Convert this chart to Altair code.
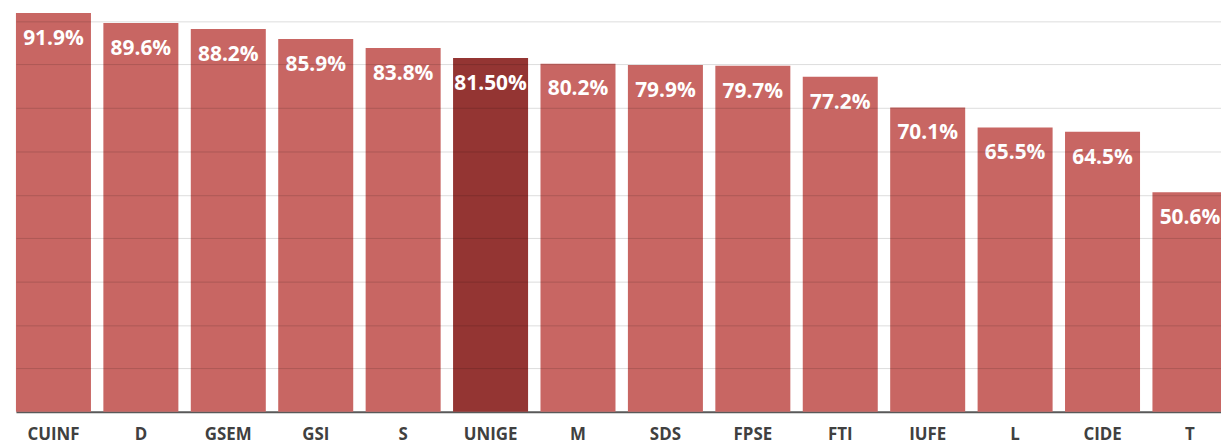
import altair as alt
import pandas as pd

categories = ["CUINF", "D", "GSEM", "GSI", "S", "UNIGE", "M", "SDS", "FPSE", "FTI", "IUFE", "L", "CIDE", "T"]
values = [91.9, 89.6, 88.2, 85.9, 83.8, 81.50, 80.2, 79.9, 79.7, 77.2, 70.1, 65.5, 64.5, 50.6]
labels = ["91.9%", "89.6%", "88.2%", "85.9%", "83.8%", "81.50%", "80.2%", "79.9%", "79.7%", "77.2%", "70.1%", "65.5%", "64.5%", "50.6%"]
highlight = ["no", "no", "no", "no", "no", "yes", "no", "no", "no", "no", "no", "no", "no", "no"]
grid_values = [10, 20, 30, 40, 50, 60, 70, 80, 90]

df = pd.DataFrame({"cat": categories, "value": values, "label": labels, "hl": highlight})

x_enc = alt.X(
    "cat:N",
    sort=categories,
    title=None,
    scale=alt.Scale(range=[8, 1227.5], paddingInner=0.142, paddingOuter=0),
    axis=alt.Axis(
        labelAngle=0,
        labelFont="Open Sans",
        labelFontSize=17,
        labelFontWeight="bold",
        labelColor="#404040",
        labelBaseline="alphabetic",
        labelPadding=28,
        ticks=False,
        tickSize=0,
        domain=True,
        domainColor="#595959",
        domainWidth=2,
        grid=False,
    ),
)

y_scale = alt.Scale(domain=[0, 92.7], nice=False, zero=True)

bars = alt.Chart(df).mark_bar().encode(
    x=x_enc,
    y=alt.Y(
        "value:Q",
        title=None,
        scale=y_scale,
        axis=alt.Axis(
            values=grid_values,
            labels=False,
            ticks=False,
            domain=False,
            grid=True,
            gridColor="#000000",
            gridOpacity=0.14,
            gridWidth=1,
            zindex=1,
        ),
    ),
    color=alt.Color(
        "hl:N",
        scale=alt.Scale(domain=["no", "yes"], range=["#C86663", "#943533"]),
        legend=None,
    ),
)

text = alt.Chart(df).mark_text(
    dy=32,
    baseline="alphabetic",
    align="center",
    font="Open Sans",
    fontSize=21,
    fontWeight="bold",
    color="white",
).encode(
    x=alt.X("cat:N", sort=categories),
    y=alt.Y("value:Q", scale=y_scale),
    text="label:N",
)

chart = (
    alt.layer(bars, text)
    .properties(
        width=1221,
        height=405,
        padding={"left": 0, "top": 0, "right": 0, "bottom": 34},
        autosize=alt.AutoSizeParams(type="none"),
    )
    .configure_view(stroke=None)
)

chart.save("out.html", embed_options={"renderer": "svg", "actions": False})
